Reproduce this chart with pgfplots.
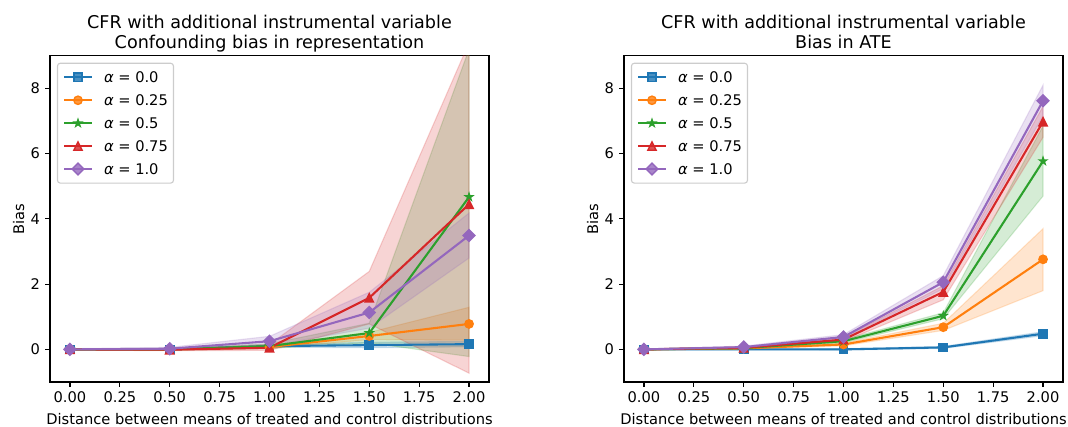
\documentclass[border=0pt]{standalone}
\usepackage{fontspec}
\setmainfont{DejaVu Sans}
\usepackage{pgfplots}
\pgfplotsset{compat=1.18}
\usepackage{pgfplotstable}
\usepgfplotslibrary{fillbetween}

% tab10 colours
\definecolor{c0}{HTML}{1F77B4}
\definecolor{c1}{HTML}{FF7F0E}
\definecolor{c2}{HTML}{2CA02C}
\definecolor{c3}{HTML}{D62728}
\definecolor{c4}{HTML}{9467BD}

% filled five-pointed star
\pgfdeclareplotmark{mstar}{%
  \pgfpathmoveto{\pgfqpoint{0pt}{\pgfplotmarksize}}%
  \pgfpathlineto{\pgfqpoint{-0.2245\pgfplotmarksize}{0.309\pgfplotmarksize}}%
  \pgfpathlineto{\pgfqpoint{-0.9511\pgfplotmarksize}{0.309\pgfplotmarksize}}%
  \pgfpathlineto{\pgfqpoint{-0.3633\pgfplotmarksize}{-0.118\pgfplotmarksize}}%
  \pgfpathlineto{\pgfqpoint{-0.5878\pgfplotmarksize}{-0.809\pgfplotmarksize}}%
  \pgfpathlineto{\pgfqpoint{0pt}{-0.382\pgfplotmarksize}}%
  \pgfpathlineto{\pgfqpoint{0.5878\pgfplotmarksize}{-0.809\pgfplotmarksize}}%
  \pgfpathlineto{\pgfqpoint{0.3633\pgfplotmarksize}{-0.118\pgfplotmarksize}}%
  \pgfpathlineto{\pgfqpoint{0.9511\pgfplotmarksize}{0.309\pgfplotmarksize}}%
  \pgfpathlineto{\pgfqpoint{0.2245\pgfplotmarksize}{0.309\pgfplotmarksize}}%
  \pgfpathclose\pgfusepathqfillstroke}
% upward triangle
\pgfdeclareplotmark{mtri}{%
  \pgfpathmoveto{\pgfqpoint{0pt}{\pgfplotmarksize}}%
  \pgfpathlineto{\pgfqpoint{-\pgfplotmarksize}{-\pgfplotmarksize}}%
  \pgfpathlineto{\pgfqpoint{\pgfplotmarksize}{-\pgfplotmarksize}}%
  \pgfpathclose\pgfusepathqfillstroke}
% diamond
\pgfdeclareplotmark{mdia}{%
  \pgfpathmoveto{\pgfqpoint{0pt}{1.414\pgfplotmarksize}}%
  \pgfpathlineto{\pgfqpoint{-1.414\pgfplotmarksize}{0pt}}%
  \pgfpathlineto{\pgfqpoint{0pt}{-1.414\pgfplotmarksize}}%
  \pgfpathlineto{\pgfqpoint{1.414\pgfplotmarksize}{0pt}}%
  \pgfpathclose\pgfusepathqfillstroke}

% mean (m), lower (l) and upper (h) bias per alpha
\pgfplotstableread{
x   m0   l0    h0   m1   l1   h1   m2   l2    h2   m3    l3    h3   m4   l4    h4
0.0 0.00 -0.02 0.02 0.00 -0.02 0.02 0.00 -0.02 0.02 0.00 -0.02 0.02 0.00 -0.02 0.02
0.5 0.00 -0.02 0.02 0.00 -0.02 0.02 0.00 -0.03 0.03 -0.01 -0.04 0.02 0.02 -0.02 0.06
1.0 0.10 0.07  0.13 0.07 0.03  0.12 0.10 0.03  0.17 0.05 -0.03 0.15 0.25 0.10  0.40
1.5 0.13 0.05  0.22 0.41 0.30  0.52 0.50 0.20  0.80 1.58 0.78  2.39 1.13 0.65  1.75
2.0 0.16 0.08  0.24 0.78 0.28  1.29 4.67 -0.22 9.20 4.45 -0.73 9.40 3.49 2.80  4.18
}\repr

\pgfplotstableread{
x   m0   l0    h0   m1   l1   h1   m2   l2   h2   m3   l3   h3   m4   l4   h4
0.0 0.00 -0.01 0.01 0.00 -0.01 0.01 0.00 -0.01 0.01 0.00 -0.01 0.01 0.00 -0.01 0.01
0.5 0.00 -0.01 0.01 0.03 0.01 0.05 0.04 0.02 0.06 0.05 0.03 0.07 0.07 0.04 0.10
1.0 0.00 -0.02 0.02 0.15 0.11 0.19 0.25 0.20 0.30 0.30 0.24 0.36 0.38 0.32 0.45
1.5 0.06 0.03  0.09 0.68 0.58 0.80 1.03 0.94 1.12 1.76 1.52 1.95 2.06 1.86 2.26
2.0 0.48 0.42  0.54 2.76 1.80 3.70 5.77 4.70 6.85 6.98 6.50 7.45 7.62 7.15 8.10
}\ate

% shaded spread: #1 table, #2 path prefix, #3 series index, #4 colour
\newcommand{\band}[4]{%
  \addplot[draw=none, forget plot, name path=#2hi#3] table[x=x, y=h#3] {#1};
  \addplot[draw=none, forget plot, name path=#2lo#3] table[x=x, y=l#3] {#1};
  \addplot[fill=#4, fill opacity=0.2, draw=#4, draw opacity=0.2, line width=0.8pt, forget plot]
    fill between[of=#2hi#3 and #2lo#3];
}
% mean curve: #1 table, #2 series index, #3 colour, #4 mark, #5 mark size
\newcommand{\curve}[5]{%
  \addplot[#3, line width=1.5pt, mark=#4, mark size=#5,
    mark options={solid, fill=#3, draw=#3, line width=1pt}] table[x=x, y=m#2] {#1};
}

\newcommand{\fs}{\fontsize{10.55}{12.6}\selectfont}

\pgfplotsset{
  panel/.style={
    scale only axis, width=316.08pt, height=234.9pt,
    xmin=-0.1, xmax=2.1, ymin=-1, ymax=9,
    xtick={0,0.25,0.5,0.75,1,1.25,1.5,1.75,2},
    xticklabels={0.00,0.25,0.50,0.75,1.00,1.25,1.50,1.75,2.00},
    ytick={0,2,4,6,8}, yticklabels={0,2,4,6,8},
    tick align=outside, xtick pos=bottom, ytick pos=left,
    major tick length=3.5pt,
    every tick/.style={black, line width=0.8pt},
    axis line style={black, line width=0.8pt},
    tick label style={font=\fs},
    xticklabel style={anchor=north, inner sep=0pt, yshift=-3.5pt},
    yticklabel style={anchor=east, inner sep=0pt, xshift=-3.5pt},
    title style={at={(axis description cs:0.5,1)}, anchor=south, inner sep=0pt,
      yshift=-3.8pt, align=center, font=\fontsize{12.66}{14.6}\selectfont},
    xlabel style={at={(axis description cs:0.5,0)}, anchor=base, yshift=-30.96pt,
      inner sep=0pt, font=\fs},
    ylabel style={at={(axis description cs:0,0.5)}, anchor=base, rotate=0,
      yshift=18.7pt, inner sep=0pt, font=\fs},
    xlabel={Distance between means of treated and control distributions},
    ylabel={Bias},
    legend image code/.code={%
      \draw[mark repeat=2, mark phase=2, ##1] plot coordinates {(0pt,0pt) (10pt,0pt) (20pt,0pt)};},
    legend style={at={(axis description cs:0,1)}, anchor=north west,
      xshift=5pt, yshift=-5pt, draw=black!20, line width=0.8pt, rounded corners=2pt,
      fill=white, fill opacity=0.8, text opacity=1,
      font=\fs, inner xsep=4pt, inner ysep=4pt,
      row sep=4.2pt, column sep=8pt,
      nodes={inner sep=0pt, text height=9.8pt, text depth=2.5pt},
      cells={anchor=west}},
  }
}

\begin{document}
\begin{tikzpicture}
\begin{axis}[panel, at={(36pt,32.4pt)}, anchor=south west,
  title={CFR with additional instrumental variable\\Confounding bias in representation}]
  \band{\repr}{a}{0}{c0}
  \band{\repr}{a}{1}{c1}
  \band{\repr}{a}{2}{c2}
  \band{\repr}{a}{3}{c3}
  \band{\repr}{a}{4}{c4}
  \curve{\repr}{0}{c0}{square*}{3pt}
  \addlegendentry{{\itshape α} = 0.0}
  \curve{\repr}{1}{c1}{*}{3pt}
  \addlegendentry{{\itshape α} = 0.25}
  \curve{\repr}{2}{c2}{mstar}{2.6pt}
  \addlegendentry{{\itshape α} = 0.5}
  \curve{\repr}{3}{c3}{mtri}{3pt}
  \addlegendentry{{\itshape α} = 0.75}
  \curve{\repr}{4}{c4}{mdia}{3pt}
  \addlegendentry{{\itshape α} = 1.0}
\end{axis}

\begin{axis}[panel, at={(449.28pt,32.4pt)}, anchor=south west,
  title={CFR with additional instrumental variable\\Bias in ATE\vphantom{g}}]
  \band{\ate}{b}{0}{c0}
  \band{\ate}{b}{1}{c1}
  \band{\ate}{b}{2}{c2}
  \band{\ate}{b}{3}{c3}
  \band{\ate}{b}{4}{c4}
  \curve{\ate}{0}{c0}{square*}{3pt}
  \addlegendentry{{\itshape α} = 0.0}
  \curve{\ate}{1}{c1}{*}{3pt}
  \addlegendentry{{\itshape α} = 0.25}
  \curve{\ate}{2}{c2}{mstar}{2.6pt}
  \addlegendentry{{\itshape α} = 0.5}
  \curve{\ate}{3}{c3}{mtri}{3pt}
  \addlegendentry{{\itshape α} = 0.75}
  \curve{\ate}{4}{c4}{mdia}{3pt}
  \addlegendentry{{\itshape α} = 1.0}
\end{axis}

% fixed page frame
\pgfresetboundingbox
\path[use as bounding box] (0,0) rectangle (768.96pt,307.44pt);
\end{tikzpicture}
\end{document}
